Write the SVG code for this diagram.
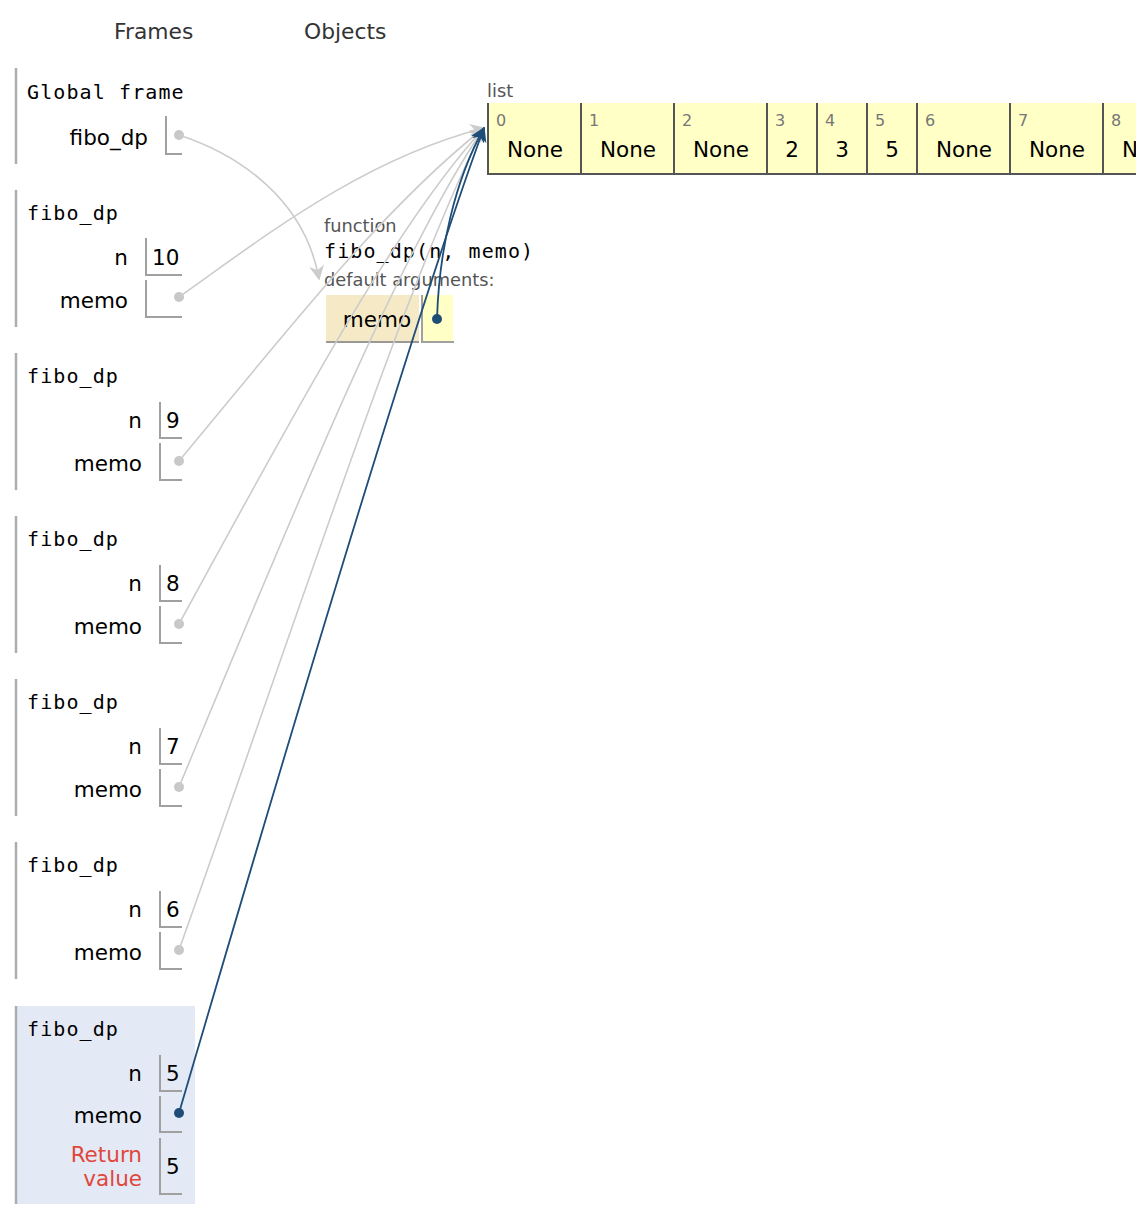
<svg xmlns="http://www.w3.org/2000/svg" width="1136" height="1224" viewBox="0 0 1136 1224">
<defs>
<style>
.hdr{font-family:"DejaVu Sans",Verdana,sans-serif;font-size:21.8px;fill:#333}
.mono{font-family:"DejaVu Sans Mono","Liberation Mono",monospace;font-size:20px;letter-spacing:1.1px;fill:#000}
.lbl{font-family:"DejaVu Sans",Verdana,sans-serif;font-size:21.5px;fill:#000}
.small{font-family:"DejaVu Sans",Verdana,sans-serif;font-size:17.8px;fill:#555}
.idx{font-family:"DejaVu Sans",Verdana,sans-serif;font-size:16px;fill:#777}
.ret{font-family:"DejaVu Sans",Verdana,sans-serif;font-size:21.5px;fill:#e0473b}
.bar{stroke:#a8aeb2;stroke-width:2.5}
.box{fill:none;stroke:#a0a0a0;stroke-width:2}
.cell{fill:#ffffc6}
.cline{stroke:#555;stroke-width:2}
.gdot{fill:#c8c8c8}
.bdot{fill:#1e4d78}
.gl{fill:none;stroke:#cccccc;stroke-width:1.6}
.bl{fill:none;stroke:#1e4d78;stroke-width:1.8}
</style>
<marker id="ag" viewBox="0 0 10 10" refX="9" refY="5" markerWidth="15" markerHeight="15" markerUnits="userSpaceOnUse" orient="auto"><path d="M0,0 L10,5 L0,10 L3,5 Z" fill="#cccccc"/></marker>
<marker id="ab" viewBox="0 0 10 10" refX="9" refY="5" markerWidth="15" markerHeight="15" markerUnits="userSpaceOnUse" orient="auto"><path d="M0,0 L10,5 L0,10 L3,5 Z" fill="#1e4d78"/></marker>
</defs>
<rect width="1136" height="1224" fill="#fff"/>
<text class="hdr" x="114" y="39">Frames</text>
<text class="hdr" x="304" y="39">Objects</text>

<g id="global-frame">
<line class="bar" x1="16" y1="68" x2="16" y2="164"/>
<text class="mono" x="27" y="99">Global frame</text>
<text class="lbl" x="148" y="145" text-anchor="end">fibo_dp</text>
<path class="box" d="M166,116 V154 H182"/>
<circle class="gdot" cx="179" cy="135" r="5"/>
</g>

<g id="frame-10">
<line class="bar" x1="16" y1="190" x2="16" y2="327"/>
<text class="mono" x="27" y="220">fibo_dp</text>
<text class="lbl" x="128" y="265" text-anchor="end">n</text>
<path class="box" d="M146,238 V275 H182"/>
<text class="lbl" x="152" y="265">10</text>
<text class="lbl" x="128" y="308" text-anchor="end">memo</text>
<path class="box" d="M146,280 V317 H182"/>
<circle class="gdot" cx="179" cy="297" r="5"/>
</g>

<g id="frame-9">
<line class="bar" x1="16" y1="353" x2="16" y2="490"/>
<text class="mono" x="27" y="383">fibo_dp</text>
<text class="lbl" x="142" y="428" text-anchor="end">n</text>
<path class="box" d="M160,402 V438 H182"/>
<text class="lbl" x="166" y="428">9</text>
<text class="lbl" x="142" y="471" text-anchor="end">memo</text>
<path class="box" d="M160,443 V480 H182"/>
<circle class="gdot" cx="179" cy="461" r="5"/>
</g>

<g id="frame-8">
<line class="bar" x1="16" y1="516" x2="16" y2="653"/>
<text class="mono" x="27" y="546">fibo_dp</text>
<text class="lbl" x="142" y="591" text-anchor="end">n</text>
<path class="box" d="M160,565 V601 H182"/>
<text class="lbl" x="166" y="591">8</text>
<text class="lbl" x="142" y="634" text-anchor="end">memo</text>
<path class="box" d="M160,606 V643 H182"/>
<circle class="gdot" cx="179" cy="624" r="5"/>
</g>

<g id="frame-7">
<line class="bar" x1="16" y1="679" x2="16" y2="816"/>
<text class="mono" x="27" y="709">fibo_dp</text>
<text class="lbl" x="142" y="754" text-anchor="end">n</text>
<path class="box" d="M160,728 V764 H182"/>
<text class="lbl" x="166" y="754">7</text>
<text class="lbl" x="142" y="797" text-anchor="end">memo</text>
<path class="box" d="M160,769 V806 H182"/>
<circle class="gdot" cx="179" cy="787" r="5"/>
</g>

<g id="frame-6">
<line class="bar" x1="16" y1="842" x2="16" y2="979"/>
<text class="mono" x="27" y="872">fibo_dp</text>
<text class="lbl" x="142" y="917" text-anchor="end">n</text>
<path class="box" d="M160,891 V927 H182"/>
<text class="lbl" x="166" y="917">6</text>
<text class="lbl" x="142" y="960" text-anchor="end">memo</text>
<path class="box" d="M160,932 V969 H182"/>
<circle class="gdot" cx="179" cy="950" r="5"/>
</g>

<g id="frame-5">
<rect x="16" y="1006" width="179" height="198" fill="#e4eaf5"/>
<line class="bar" x1="16" y1="1006" x2="16" y2="1204"/>
<text class="mono" x="27" y="1036">fibo_dp</text>
<text class="lbl" x="142" y="1081" text-anchor="end">n</text>
<path class="box" d="M160,1055 V1091 H182"/>
<text class="lbl" x="166" y="1081">5</text>
<text class="lbl" x="142" y="1123" text-anchor="end">memo</text>
<path class="box" d="M160,1096 V1132 H182"/>
<circle class="bdot" cx="179" cy="1113" r="5"/>
<text class="ret" x="142" y="1162" text-anchor="end">Return</text>
<text class="ret" x="142" y="1186" text-anchor="end">value</text>
<path class="box" d="M160,1138 V1194 H182"/>
<text class="lbl" x="166" y="1174">5</text>
</g>

<g id="list-object">
<text class="small" x="487" y="97">list</text>
<rect class="cell" x="487" y="103" width="660" height="71"/>
<line class="cline" x1="488" y1="103" x2="488" y2="175"/>
<line class="cline" x1="581" y1="103" x2="581" y2="175"/>
<line class="cline" x1="674" y1="103" x2="674" y2="175"/>
<line class="cline" x1="767" y1="103" x2="767" y2="175"/>
<line class="cline" x1="817" y1="103" x2="817" y2="175"/>
<line class="cline" x1="867" y1="103" x2="867" y2="175"/>
<line class="cline" x1="917" y1="103" x2="917" y2="175"/>
<line class="cline" x1="1010" y1="103" x2="1010" y2="175"/>
<line class="cline" x1="1103" y1="103" x2="1103" y2="175"/>
<line class="cline" x1="487" y1="174" x2="1136" y2="174"/>
<text class="idx" x="496" y="126">0</text>
<text class="idx" x="589" y="126">1</text>
<text class="idx" x="682" y="126">2</text>
<text class="idx" x="775" y="126">3</text>
<text class="idx" x="825" y="126">4</text>
<text class="idx" x="875" y="126">5</text>
<text class="idx" x="925" y="126">6</text>
<text class="idx" x="1018" y="126">7</text>
<text class="idx" x="1111" y="126">8</text>
<text class="lbl" x="535" y="157" text-anchor="middle">None</text>
<text class="lbl" x="628" y="157" text-anchor="middle">None</text>
<text class="lbl" x="721" y="157" text-anchor="middle">None</text>
<text class="lbl" x="792" y="157" text-anchor="middle">2</text>
<text class="lbl" x="842" y="157" text-anchor="middle">3</text>
<text class="lbl" x="892" y="157" text-anchor="middle">5</text>
<text class="lbl" x="964" y="157" text-anchor="middle">None</text>
<text class="lbl" x="1057" y="157" text-anchor="middle">None</text>
<text class="lbl" x="1150" y="157" text-anchor="middle">None</text>
</g>

<g id="function-object">
<text class="small" x="324" y="232">function</text>
<text class="mono" x="324" y="258">fibo_dp(n, memo)</text>
<text class="small" x="324" y="286">default arguments:</text>
<rect x="326" y="295" width="93" height="47" fill="#f5eac5"/>
<line x1="326" y1="342" x2="419" y2="342" stroke="#999" stroke-width="2"/>
<text class="lbl" x="377" y="327" text-anchor="middle">memo</text>
<rect x="422" y="295" width="31" height="47" fill="#ffffc6"/>
<path class="box" d="M422,295 V342 H454"/>
<circle class="bdot" cx="437" cy="319" r="5"/>
</g>

<g id="connectors">
<path class="gl" d="M179,135 C240,155 305,200 319,279" marker-end="url(#ag)"/>
<path class="gl" d="M179,297 C260,240 360,160 484,128" marker-end="url(#ag)"/>
<path class="gl" d="M179,461 C280,340 380,210 484,128" marker-end="url(#ag)"/>
<path class="gl" d="M179,624 C280,440 390,230 484,128" marker-end="url(#ag)"/>
<path class="gl" d="M179,787 C290,520 400,250 484,128" marker-end="url(#ag)"/>
<path class="gl" d="M179,950 C300,610 410,270 484,128" marker-end="url(#ag)"/>
<path class="bl" d="M179,1113 C300,700 420,300 484,128" marker-end="url(#ab)"/>
<path class="bl" d="M437,319 C439,250 455,180 484,128" marker-end="url(#ab)"/>
</g>
</svg>
